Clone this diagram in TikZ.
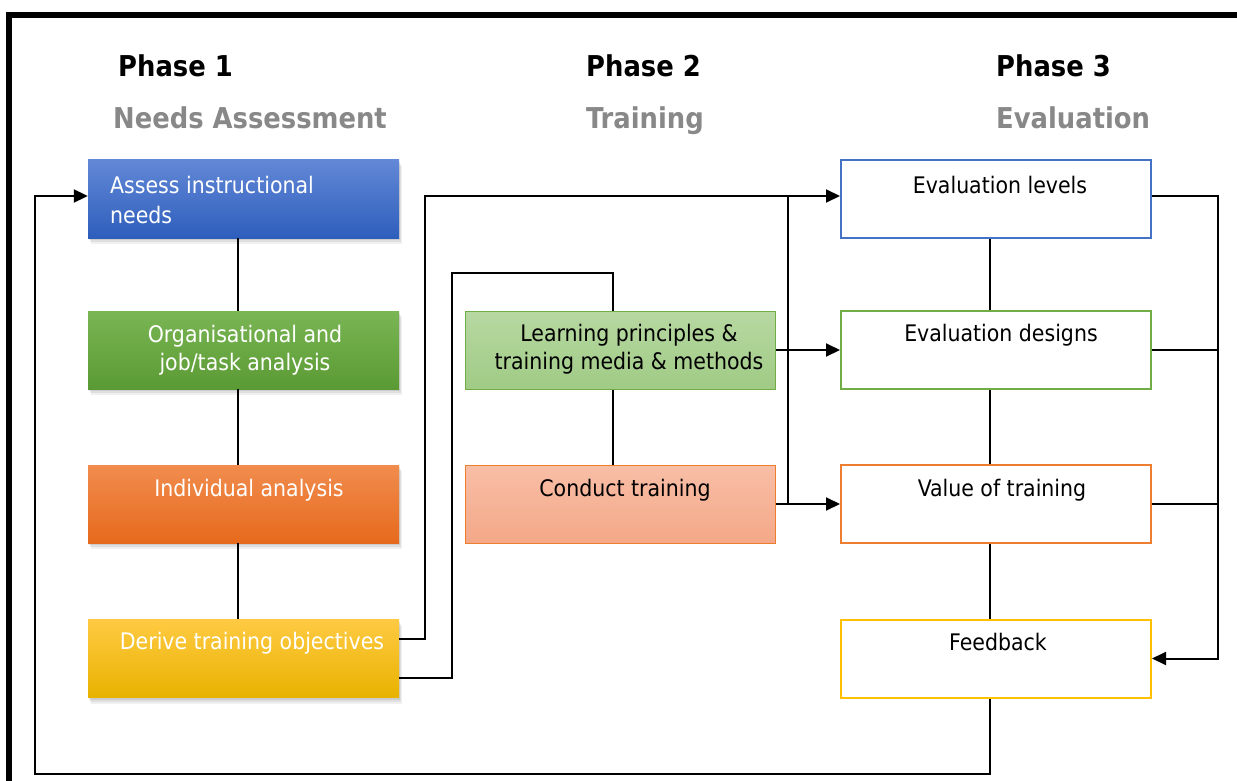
\documentclass[tikz,border=0pt]{standalone}
\usepackage{fontspec}
\setmainfont{DejaVu Sans Condensed}
\usetikzlibrary{arrows.meta,shadows,calc}
\definecolor{hgray}{RGB}{136,136,136}
\definecolor{bTop}{RGB}{98,136,214}
\definecolor{bBot}{RGB}{46,94,188}
\definecolor{gTop}{RGB}{122,182,84}
\definecolor{gBot}{RGB}{90,154,52}
\definecolor{oTop}{RGB}{241,140,78}
\definecolor{oBot}{RGB}{230,106,28}
\definecolor{yTop}{RGB}{255,202,66}
\definecolor{yMid}{RGB}{255,194,0}
\definecolor{yBot}{RGB}{232,178,0}
\definecolor{lgTop}{RGB}{183,216,162}
\definecolor{lgBot}{RGB}{160,203,133}
\definecolor{lgLine}{RGB}{112,173,71}
\definecolor{saTop}{RGB}{248,190,166}
\definecolor{saBot}{RGB}{244,168,136}
\definecolor{saLine}{RGB}{237,125,49}
\definecolor{evBlue}{RGB}{68,114,196}
\definecolor{evGreen}{RGB}{112,173,71}
\definecolor{evOrange}{RGB}{237,125,49}
\definecolor{evGold}{RGB}{255,192,0}
\begin{document}
\begin{tikzpicture}[x=1pt,y=-1pt,
  lbox/.style={minimum width=311pt,minimum height=78pt,inner sep=0pt,
    drop shadow={shadow xshift=3pt,shadow yshift=-6pt,opacity=0.12},
    drop shadow={shadow xshift=2pt,shadow yshift=-4pt,opacity=0.15},
    drop shadow={shadow xshift=1pt,shadow yshift=-2pt,opacity=0.2}},
  mbox/.style={minimum width=310pt,minimum height=78pt,inner sep=0pt,line width=1pt},
  rbox/.style={minimum width=310pt,minimum height=78pt,inner sep=0pt,line width=2pt,fill=white},
  txt/.style={font=\fontsize{22.8}{28}\selectfont,align=center,inner sep=0pt},
  wtxt/.style={txt,text=white},
  phase/.style={font=\fontsize{28.7}{32}\selectfont\bfseries,anchor=base west,inner sep=0pt},
  sub/.style={phase,text=hgray},
  conn/.style={line width=2pt},
  arr/.style={conn,-{Triangle[length=14pt,width=13pt]}}]
\useasboundingbox (0,0) rectangle (1237,781);
% frame
\draw[line width=6pt] (9,781) -- (9,15) -- (1237,15);
% headings
\node[phase] (p1) at (118,77) {Phase 1};
\node[phase] (p2) at (586,77) {Phase 2};
\node[phase] (p3) at (996,77) {Phase 3};
\node[sub] (s1) at (113,129) {Needs Assessment};
\node[sub] (s2) at (586,129) {Training};
\node[sub] (s3) at (996,129) {Evaluation};
% left column
\node[lbox,top color=bTop,bottom color=bBot] (b1) at (243.5,199) {};
\node[lbox,top color=gTop,bottom color=gBot] (b2) at (243.5,350) {};
\node[lbox,top color=oTop,bottom color=oBot] (b3) at (243.5,504) {};
\node[lbox,top color=yTop,middle color=yMid,bottom color=yBot] (b4) at (243.5,658.5) {};
\node[wtxt,align=left,anchor=west,font=\fontsize{22.8}{30}\selectfont] (t1) at (110,200) {Assess instructional\\needs};
\node[wtxt] (t2) at (245,350) {Organisational and\\job/task analysis};
\node[wtxt] (t3) at (249,490) {Individual analysis};
\node[wtxt] (t4) at (252,643) {Derive training objectives};
% middle column
\node[mbox,draw=lgLine,top color=lgTop,bottom color=lgBot] (c1) at (620,350) {};
\node[mbox,draw=saLine,top color=saTop,bottom color=saBot] (c2) at (620,504) {};
\node[txt] (tc1) at (629,349) {Learning principles \&\\training media \& methods};
\node[txt] (tc2) at (625,490) {Conduct training};
% right column
\node[rbox,draw=evBlue] (e1) at (996,199) {};
\node[rbox,draw=evGreen] (e2) at (996,350) {};
\node[rbox,draw=evOrange] (e3) at (996,504) {};
\node[rbox,draw=evGold] (e4) at (996,658.5) {};
\node[txt] (te1) at (1000,185) {Evaluation levels};
\node[txt] (te2) at (1001,335) {Evaluation designs};
\node[txt] (te3) at (1002,490) {Value of training};
\node[txt] (te4) at (998,642) {Feedback};
% vertical links
\draw[conn] ([xshift=-6pt]b1.south) -- ([xshift=-6pt]b2.north);
\draw[conn] ([xshift=-6pt]b2.south) -- ([xshift=-6pt]b3.north);
\draw[conn] ([xshift=-6pt]b3.south) -- ([xshift=-6pt]b4.north);
\draw[conn] ([xshift=-7pt]c1.south) -- ([xshift=-7pt]c2.north);
\draw[conn] ([xshift=-6pt]e1.south) -- ([xshift=-6pt]e2.north);
\draw[conn] ([xshift=-6pt]e2.south) -- ([xshift=-6pt]e3.north);
\draw[conn] ([xshift=-6pt]e3.south) -- ([xshift=-6pt]e4.north);
% objectives to evaluation levels
\draw[arr] ([yshift=19.5pt]b4.east) -- (425,639) |- ([yshift=3pt]e1.west);
\coordinate (ja) at (788,196);
\draw[conn] (ja) -- (788,504);
% learning principles loop back to objectives
\draw[conn] ([xshift=-7pt]c1.north) |- (452,273) |- ([yshift=-19.5pt]b4.east);
% middle to right
\draw[arr] (c1.east) -- (e2.west);
\draw[arr] (c2.east) -- (e3.west);
% right side collector to feedback
\draw[arr] ([yshift=3pt]e1.east) -- (1218,196) |- (e4.east);
\draw[conn] (e2.east) -- ++(67,0);
\draw[conn] (e3.east) -- ++(67,0);
% feedback loop
\draw[arr] ([xshift=-6pt]e4.south) |- (35,774) |- ([yshift=3pt]b1.west);
\end{tikzpicture}
\end{document}
